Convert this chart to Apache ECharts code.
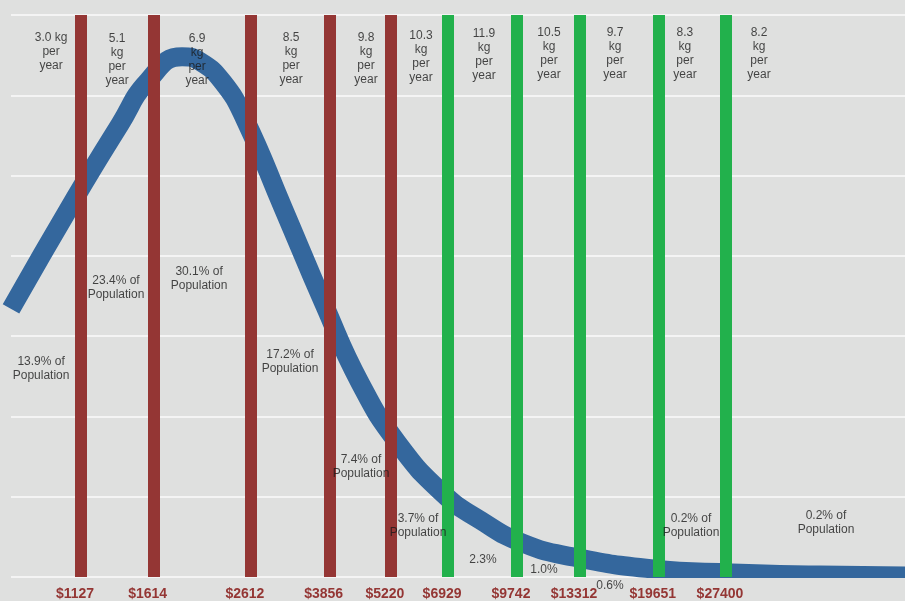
<!DOCTYPE html>
<html>
<head>
<meta charset="utf-8">
<script src="https://cdn.jsdelivr.net/npm/echarts@6/dist/echarts.min.js"></script>
<style>
html,body{margin:0;padding:0;background:#dfe0df;}
#chart{width:905px;height:601px;}
</style>
</head>
<body>
<div id="chart"></div>
<script>
// ---- Data ----
// Income break points (vertical bars), US$
const incomeBreaks = [1127, 1614, 2612, 3856, 5220, 6929, 9742, 13312, 19651, 27400];
// Consumption per income band, kg per year (11 bands)
const kgPerYear = ['3.0', '5.1', '6.9', '8.5', '9.8', '10.3', '11.9', '10.5', '9.7', '8.3', '8.2'];
// Share of population per income band, %
const populationPct = ['13.9', '23.4', '30.1', '17.2', '7.4', '3.7', '2.3', '1.0', '0.6', '0.2', '0.2'];
// Income distribution curve (income, relative density)
const curveIncome = [797, 1094, 1367, 1570, 1858, 2031, 2276, 2537, 3062, 3750, 4481, 5381, 6756, 8115, 10038, 12857, 19095, 28230, 43630, 66450];
const curveValue  = [16.7, 23.6, 28.2, 30.9, 32.4, 32.1, 30.8, 28.5, 23.0, 17.0, 12.1, 8.4, 5.2, 3.55, 2.1, 1.25, 0.5, 0.25, 0.12, 0.06];

// ---- Annotation anchors in data space (income, density) ----
const kgLabelIncome = [972, 1347, 2001, 3186, 4617, 6061, 8277, 11416, 15824, 22370, 32270];
const kgLabelLevel  = [32.7, 32.2, 32.2, 32.3, 32.3, 32.4, 32.5, 32.6, 32.6, 32.6, 32.6];
const popLabelIncome = [925, 1340, 2021, 3170, 4504, 5971, 8236, 11137, 15437, 23050, 44950];
const popLabelLevel  = [13.0, 18.0, 18.6, 13.4, 6.9, 3.2, 1.1, 0.44, -0.56, 3.2, 3.4];
const shortPopLabel  = [false, false, false, false, false, false, true, true, true, false, false];

// ---- Styles ----
const FONT = '"Liberation Sans", Arial, Helvetica, sans-serif';
const BG = '#dfe0df';
const RED = '#943634', GREEN = '#22b14c', BLUE = '#34679d';

const kgText = (k, i) => i === 0 ? k + ' kg\nper\nyear' : k + '\nkg\nper\nyear';
const popText = (p, i) => shortPopLabel[i] ? p + '%' : p + '% of\nPopulation';

const chart = echarts.init(document.getElementById('chart'), null, {renderer: 'canvas'});
chart.setOption({
  animation: false,
  backgroundColor: BG,
  grid: {left: 11, right: 0, top: 15, bottom: 24, containLabel: false, outerBoundsMode: 'none'},
  xAxis: {
    type: 'log', logBase: 10, min: 797, max: 66450,
    axisLine: {show: false}, axisTick: {show: false}, axisLabel: {show: false}, splitLine: {show: false}
  },
  yAxis: {
    type: 'value', min: 0, max: 35, interval: 5,
    axisLine: {show: false}, axisTick: {show: false}, axisLabel: {show: false},
    splitLine: {show: true, lineStyle: {color: '#f4f4f4', width: 2}}
  },
  series: [
    {
      type: 'line', name: 'distribution', z: 2,
      data: curveIncome.map((x, i) => [x, curveValue[i]]),
      smooth: 0.5, showSymbol: false, symbol: 'none', silent: true,
      lineStyle: {color: BLUE, width: 19, cap: 'butt', join: 'round'},
      markLine: {
        silent: true, symbol: ['none', 'none'], z: 5, animation: false,
        label: {
          show: true, position: 'start', distance: 10, offset: [-6, 0],
          formatter: p => '$' + p.value,
          color: RED, fontSize: 14, fontWeight: 'bold', fontFamily: FONT
        },
        emphasis: {disabled: true},
        data: incomeBreaks.map((v, i) => ({
          xAxis: v,
          lineStyle: {color: i < 5 ? RED : GREEN, width: 12, type: 'solid', opacity: 1}
        }))
      }
    },
    {
      type: 'scatter', name: 'kg', z: 10, clip: false, silent: true, symbolSize: 0,
      data: kgPerYear.map((k, i) => ({value: [kgLabelIncome[i], kgLabelLevel[i]], label: {formatter: kgText(k, i)}})),
      label: {show: true, position: 'inside', color: '#1a1a1a', fontSize: 12, lineHeight: 14,
              fontFamily: FONT, align: 'center', verticalAlign: 'middle'}
    },
    {
      type: 'scatter', name: 'population', z: 10, clip: false, silent: true, symbolSize: 0,
      data: populationPct.map((p, i) => ({value: [popLabelIncome[i], popLabelLevel[i]], label: {formatter: popText(p, i)}})),
      label: {show: true, position: 'inside', color: '#1a1a1a', fontSize: 12, lineHeight: 14,
              fontFamily: FONT, align: 'center', verticalAlign: 'middle'}
    }
  ]
});

// The plot area clips the thick curve at its bottom edge: hide the overflow
// below the zero line (position taken from the library's own y scale).
const yZero = chart.convertToPixel({yAxisIndex: 0}, 0);
chart.setOption({
  graphic: [{
    type: 'rect', silent: true, z: 3,
    shape: {x: 0, y: yZero + 1, width: chart.getWidth(), height: chart.getHeight() - yZero},
    style: {fill: BG}
  }]
});
</script>
</body>
</html>
